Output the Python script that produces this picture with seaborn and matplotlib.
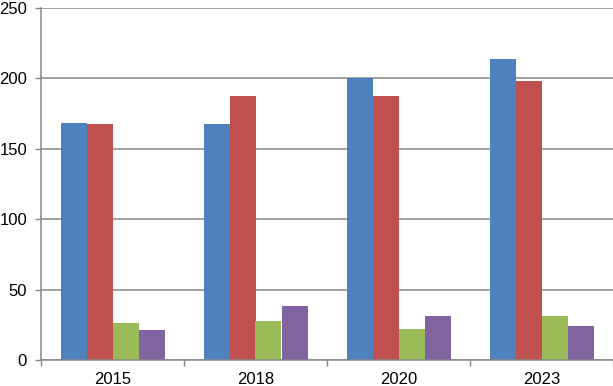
import pandas as pd
import seaborn as sns
import matplotlib.pyplot as plt
from matplotlib.ticker import FixedLocator

# data
years = ['2015', '2018', '2020', '2023']
series_names = ['Series 1', 'Series 2', 'Series 3', 'Series 4']
s1 = [168, 167.5, 200.5, 213.5]
s2 = [167.5, 187.5, 187.5, 198]
s3 = [26, 28, 22, 31.5]
s4 = [21.5, 38.5, 31.5, 24]
colors = ['#4F81BD', '#C0504D', '#9BBB59', '#8064A2']

rows = []
for name, vals in zip(series_names, [s1, s2, s3, s4]):
    for yr, v in zip(years, vals):
        rows.append({'year': yr, 'series': name, 'value': v})
df = pd.DataFrame(rows)

sns.set_style('white')
plt.rcParams['font.family'] = ['Liberation Sans', 'DejaVu Sans']

fig = plt.figure(figsize=(6.13, 3.86), dpi=100)
ax = fig.add_axes([41 / 613, 26 / 386, 572 / 613, 352 / 386])

sns.barplot(data=df, x='year', y='value', hue='series', palette=colors,
            width=4 / 5.5, gap=0, saturation=1, legend=False, ax=ax,
            linewidth=0, edgecolor='none')

grid_c = '#868686'
ax.set_ylim(0, 250)
ax.set_xlim(-0.5, 3.5)
ax.set_yticks([0, 50, 100, 150, 200, 250])
ax.yaxis.grid(True, color=grid_c, linewidth=1.1)
ax.set_axisbelow(True)
ax.set_xlabel('')
ax.set_ylabel('')

for side in ['top', 'right']:
    ax.spines[side].set_visible(False)
for side in ['left', 'bottom']:
    ax.spines[side].set_color(grid_c)
    ax.spines[side].set_linewidth(1.1)

ax.tick_params(axis='y', which='major', left=True, length=4, color=grid_c,
               width=1, labelsize=12, pad=6, labelcolor='black')
ax.tick_params(axis='x', which='major', bottom=False, length=0, labelsize=12,
               pad=9, labelcolor='black')
ax.xaxis.set_minor_locator(FixedLocator([-0.5, 0.5, 1.5, 2.5, 3.5]))
ax.tick_params(axis='x', which='minor', bottom=True, length=4, color=grid_c,
               width=1)

fig.savefig('out.png', dpi=100)
